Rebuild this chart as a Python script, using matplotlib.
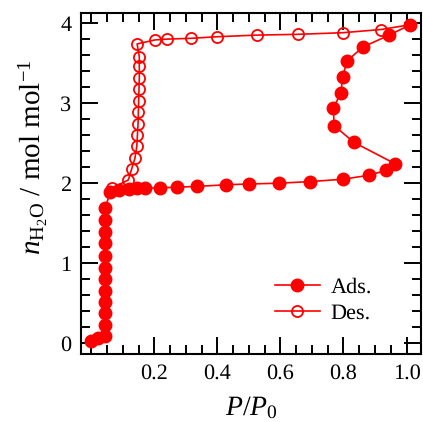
import matplotlib
matplotlib.use("Agg")
import matplotlib.pyplot as plt
from matplotlib.ticker import MultipleLocator, FixedLocator

# Water sorption isotherm: adsorption / desorption branches
ads_p = [0.000, 0.020, 0.043, 0.044, 0.044, 0.044, 0.044, 0.044, 0.044, 0.044,
         0.044, 0.044, 0.044, 0.044, 0.060, 0.086, 0.118, 0.144, 0.171, 0.217,
         0.272, 0.336, 0.427, 0.500, 0.596, 0.694, 0.800, 0.882, 0.935, 0.965,
         0.833, 0.770, 0.768, 0.792, 0.797, 0.812, 0.861, 0.945, 1.012]
ads_n = [0.03, 0.06, 0.09, 0.23, 0.375, 0.51, 0.65, 0.80, 0.945, 1.09,
         1.25, 1.395, 1.54, 1.69, 1.89, 1.91, 1.93, 1.94, 1.94, 1.94,
         1.95, 1.96, 1.98, 1.99, 2.00, 2.02, 2.05, 2.10, 2.16, 2.24,
         2.51, 2.72, 2.94, 3.13, 3.33, 3.53, 3.70, 3.85, 3.98]

des_p = [1.012, 0.919, 0.797, 0.657, 0.524, 0.400, 0.316, 0.240, 0.202, 0.145,
         0.152, 0.152, 0.152, 0.151, 0.150, 0.149, 0.148, 0.146, 0.144, 0.138,
         0.128, 0.117, 0.065]
des_n = [3.98, 3.92, 3.88, 3.86, 3.85, 3.83, 3.81, 3.80, 3.79, 3.74,
         3.58, 3.46, 3.31, 3.175, 3.03, 2.89, 2.745, 2.60, 2.46, 2.31,
         2.18, 2.04, 1.94]

x_ticks = [0.2, 0.4, 0.6, 0.8, 1.0]
x_tick_labels = ["0.2", "0.4", "0.6", "0.8", "1.0"]
y_ticks = [0, 1, 2, 3, 4]

plt.rcParams["font.family"] = ["Liberation Serif", "DejaVu Serif"]
plt.rcParams["mathtext.fontset"] = "custom"
plt.rcParams["mathtext.rm"] = "Liberation Serif"
plt.rcParams["mathtext.it"] = "Liberation Serif:italic"
plt.rcParams["mathtext.bf"] = "Liberation Serif:bold"
plt.rcParams["text.hinting"] = "no_hinting"

red = "#ff0000"

fig = plt.figure(figsize=(4.23, 4.22), dpi=100)
ax = fig.add_axes([0.1915, 0.1623, 0.8038, 0.8076])

ax.plot(des_p, des_n, "-o", color=red, lw=1.2, ms=8.0, mfc="none",
        mec=red, mew=1.3, label="Des.", clip_on=False, zorder=2)
ax.plot(ads_p, ads_n, "-o", color=red, lw=1.2, ms=9.0, mfc=red,
        mec=red, label="Ads.", clip_on=False, zorder=3)

ax.set_xlim(-0.033, 1.046)
ax.set_ylim(-0.128, 4.13)

ax.xaxis.set_major_locator(FixedLocator(x_ticks))
ax.set_xticklabels(x_tick_labels)
ax.xaxis.set_minor_locator(MultipleLocator(0.05))
ax.yaxis.set_major_locator(FixedLocator(y_ticks))
ax.yaxis.set_minor_locator(MultipleLocator(0.2))

ax.tick_params(which="both", direction="in", top=True, right=True,
               width=1.4, labelsize=16, pad=7)
ax.tick_params(which="major", length=12)
ax.tick_params(which="minor", length=6.5)
for sp in ax.spines.values():
    sp.set_linewidth(1.5)

ax.set_xlabel(r"$P/P_0$", fontsize=20)
ax.xaxis.set_label_coords(0.5, -0.18)
ax.xaxis.label.set_verticalalignment("baseline")

ax.set_ylabel(r"$n_{\mathrm{H_2O}}$ / mol mol$^{-1}$", fontsize=21)
ax.yaxis.set_label_coords(-0.143, 0.575)
ax.yaxis.label.set_verticalalignment("center")

handles, labels = ax.get_legend_handles_labels()
ax.legend(handles[::-1], labels[::-1], loc="upper left",
          bbox_to_anchor=(0.571, 0.223), frameon=False, fontsize=16,
          handlelength=2.0, handletextpad=0.5, borderpad=0,
          borderaxespad=0, labelspacing=0.25)

fig.savefig("out.png", dpi=100)
